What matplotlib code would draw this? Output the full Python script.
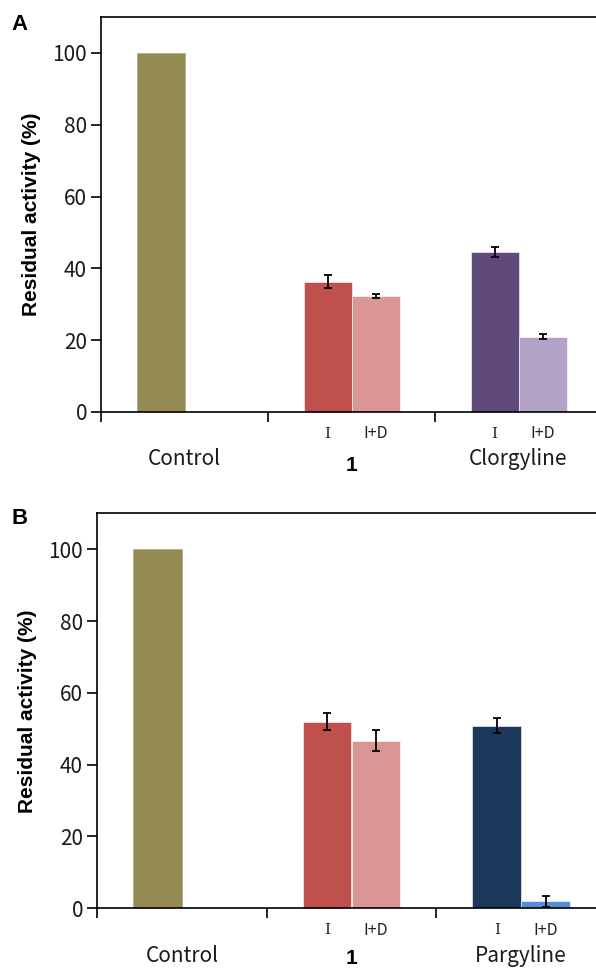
import matplotlib
matplotlib.use("Agg")
import matplotlib.pyplot as plt
import matplotlib.transforms as mtransforms

# ---- data ----
categories_A = ["Control", "1", "Clorgyline"]
categories_B = ["Control", "1", "Pargyline"]
sub_labels = ["I", "I+D"]

control_value = 100.0

A_I = [36.3, 44.6]          # compound 1, Clorgyline (inhibitor alone)
A_I_err = [1.8, 1.35]
A_ID = [32.3, 21.0]         # after dialysis
A_ID_err = [0.5, 0.65]

B_I = [52.0, 50.9]          # compound 1, Pargyline
B_I_err = [2.4, 2.1]
B_ID = [46.7, 1.95]
B_ID_err = [3.0, 1.5]

col_control = "#948A54"
cols_I_A = ["#C0504D", "#604A7B"]
cols_ID_A = ["#D99694", "#B2A2C7"]
cols_I_B = ["#C0504D", "#1B375C"]
cols_ID_B = ["#D99694", "#558ED5"]

yticks = [0, 20, 40, 60, 80, 100]

W, H = 596, 968
fig = plt.figure(figsize=(W / 100, H / 100), dpi=100)

num_font = ["Noto Sans CJK KR", "DejaVu Sans"]
bold_font = ["Liberation Sans", "DejaVu Sans"]

bw = 48.0 / 167.0


def panel(ax, cats, vI, eI, vID, eID, colsI, colsID, one_y):
    # control bar occupies only the first slot
    ax.bar([0 - bw / 2], [control_value], width=bw, color=col_control,
           edgecolor="#b5ad85", linewidth=0.6, zorder=2)
    xs = [1, 2]
    for i, x in enumerate(xs):
        ax.bar(x - bw / 2, vI[i], width=bw, color=colsI[i],
               edgecolor="white", linewidth=0.4, zorder=2)
        ax.bar(x + bw / 2, vID[i], width=bw, color=colsID[i],
               edgecolor="white", linewidth=0.4, zorder=2)
        ax.errorbar(x - bw / 2, vI[i], yerr=eI[i], fmt="none", ecolor="black",
                    elinewidth=1.3, capsize=3, capthick=1.3, zorder=3)
        ax.errorbar(x + bw / 2, vID[i], yerr=eID[i], fmt="none", ecolor="black",
                    elinewidth=1.3, capsize=3, capthick=1.3, zorder=3)
    ax.set_xlim(-0.5, 2.5)
    ax.set_ylim(0, 110)
    ax.set_yticks(yticks)
    ax.set_yticklabels([str(t) for t in yticks], fontsize=15, family=num_font,
                       color="#1a1a1a")
    ax.set_xticks([-0.5, 0.5, 1.5])
    ax.set_xticklabels([])
    ax.tick_params(axis="y", direction="out", length=7, width=1.2, pad=3)
    ax.tick_params(axis="x", direction="out", length=7, width=1.2)
    ax.spines["right"].set_visible(False)
    for s in ["left", "bottom", "top"]:
        ax.spines[s].set_linewidth(1.2)
        ax.spines[s].set_color("black")
    ax.set_ylabel("Residual activity (%)", fontsize=15, fontweight="bold",
                  family=bold_font, labelpad=8)
    trans = mtransforms.blended_transform_factory(ax.transData, ax.transAxes)
    # sub labels
    for x in xs:
        ax.text(x - bw / 2, -0.055, sub_labels[0], transform=trans, ha="center",
                va="center", fontsize=11, family=["DejaVu Serif"], color="#222222")
        ax.text(x + bw / 2, -0.055, sub_labels[1], transform=trans, ha="center",
                va="center", fontsize=11.5, family=num_font, color="#222222")
    # category labels
    for i, c in enumerate(cats):
        if c == "1":
            ax.text(i, one_y, c, transform=trans, ha="center", va="center",
                    fontsize=15, fontweight="bold", family=bold_font)
        else:
            ax.text(i, -0.12, c, transform=trans, ha="center", va="center",
                    fontsize=15, family=num_font, color="#1a1a1a")
    return ax


axA = fig.add_axes([101 / W, (H - 412) / H, 501 / W, (412 - 17) / H])
panel(axA, categories_A, A_I, A_I_err, A_ID, A_ID_err, cols_I_A, cols_ID_A, -0.135)
axB = fig.add_axes([97 / W, (H - 908.3) / H, 509 / W, (908.3 - 513.3) / H])
panel(axB, categories_B, B_I, B_I_err, B_ID, B_ID_err, cols_I_B, cols_ID_B, -0.128)

fig.text(20 / W, 1 - 24 / H, "A", fontsize=16, fontweight="bold",
         family=bold_font, ha="center", va="center")
fig.text(20 / W, 1 - 518 / H, "B", fontsize=16, fontweight="bold",
         family=bold_font, ha="center", va="center")

fig.savefig("out.png", dpi=100)
